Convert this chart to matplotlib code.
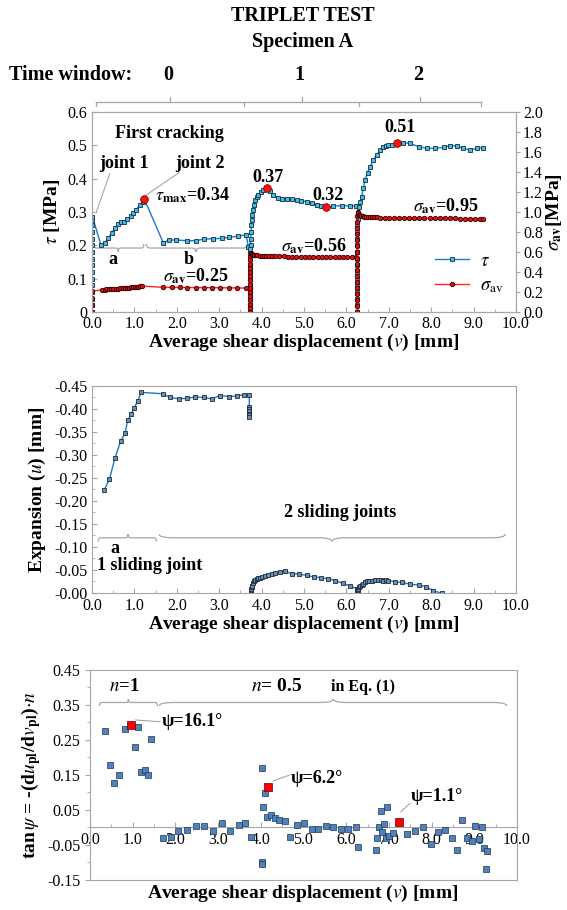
import matplotlib
matplotlib.use("Agg")
import matplotlib.pyplot as plt
from matplotlib.path import Path
from matplotlib.patches import PathPatch
from matplotlib.ticker import MultipleLocator, FuncFormatter
import matplotlib.transforms as mtransforms

plt.rcParams['font.family'] = ['Liberation Serif', 'DejaVu Serif']
plt.rcParams['mathtext.fontset'] = 'stix'
plt.rcParams['font.size'] = 11.5

# ---- top panel: shear stress tau (left) and normal stress sigma_av (right)
tau0_x = [0.0, 0.0, 0.0, 0.0, 0.0, 0.0, 0.0, 0.0, 0.0, 0.0, 0.0, 0.0, 0.0, 0.0, 0.0, 0.01,
          0.21, 0.31, 0.38, 0.46, 0.54, 0.62, 0.68, 0.75, 0.83, 0.91, 0.97, 1.04, 1.12, 1.20, 1.23,
          1.68, 1.82, 1.99, 2.23, 2.45, 2.64, 2.86, 3.06, 3.24, 3.45, 3.63, 3.69]
tau0_y = [0.0, 0.02, 0.04, 0.06, 0.08, 0.10, 0.12, 0.14, 0.16, 0.18, 0.20, 0.22, 0.24, 0.26, 0.275, 0.286,
          0.201, 0.208, 0.221, 0.236, 0.251, 0.264, 0.271, 0.271, 0.278, 0.288, 0.298, 0.306, 0.321, 0.331, 0.340,
          0.208, 0.216, 0.216, 0.214, 0.214, 0.219, 0.220, 0.221, 0.224, 0.228, 0.231, 0.196]

tau1_x = [3.73, 3.73, 3.73, 3.73, 3.73, 3.73, 3.73, 3.73, 3.73, 3.73, 3.73, 3.74, 3.74, 3.75, 3.76,
          3.77, 3.78, 3.79, 3.81, 3.84, 3.88, 3.92, 3.98, 4.04, 4.12, 4.20, 4.28, 4.39, 4.49, 4.59,
          4.71, 4.83, 4.94, 5.06, 5.18, 5.30, 5.41, 5.52, 5.69, 5.89, 6.08, 6.22]
tau1_y = [0.0, 0.02, 0.04, 0.06, 0.08, 0.10, 0.12, 0.14, 0.16, 0.18, 0.19, 0.20, 0.22, 0.24, 0.26,
          0.276, 0.29, 0.305, 0.32, 0.336, 0.345, 0.351, 0.359, 0.366, 0.371, 0.362, 0.351, 0.341, 0.340, 0.339,
          0.338, 0.336, 0.334, 0.331, 0.326, 0.321, 0.317, 0.314, 0.318, 0.319, 0.318, 0.318]

tau2_x = [6.26, 6.26, 6.26, 6.26, 6.26, 6.26, 6.26, 6.26, 6.26, 6.26, 6.26, 6.26, 6.26, 6.26, 6.27,
          6.28, 6.30, 6.33, 6.36, 6.40, 6.44, 6.50, 6.56, 6.63, 6.71, 6.79, 6.87, 6.93, 6.99, 7.08,
          7.19, 7.34, 7.50, 7.70, 7.89, 8.09, 8.29, 8.44, 8.60, 8.76, 8.92, 9.07, 9.21]
tau2_y = [0.0, 0.02, 0.04, 0.06, 0.08, 0.10, 0.12, 0.14, 0.16, 0.18, 0.20, 0.22, 0.24, 0.26, 0.28,
          0.29, 0.315, 0.33, 0.346, 0.372, 0.396, 0.418, 0.436, 0.455, 0.471, 0.485, 0.496, 0.499, 0.501, 0.502,
          0.508, 0.508, 0.506, 0.496, 0.491, 0.491, 0.494, 0.499, 0.498, 0.491, 0.486, 0.491, 0.493]

sig0_x = [0.0, 0.0, 0.0, 0.0, 0.23, 0.30, 0.34, 0.40, 0.45, 0.50, 0.56, 0.61, 0.66, 0.72, 0.77, 0.82,
          0.88, 0.93, 0.97, 1.02, 1.06, 1.09, 1.14, 1.19,
          1.68, 1.88, 2.07, 2.25, 2.45, 2.64, 2.84, 3.03, 3.24, 3.43, 3.63, 3.73]
sig0_y = [0.0, 0.07, 0.14, 0.21, 0.22, 0.223, 0.227, 0.228, 0.229, 0.23, 0.232, 0.234, 0.237, 0.239, 0.241, 0.243,
          0.245, 0.246, 0.247, 0.249, 0.251, 0.253, 0.256, 0.26,
          0.247, 0.246, 0.246, 0.245, 0.245, 0.244, 0.244, 0.243, 0.242, 0.241, 0.24, 0.237]

sig1_x = [3.73, 3.73, 3.73, 3.73, 3.73, 3.73, 3.73, 3.73, 3.73, 3.73, 3.73, 3.73, 3.73, 3.73, 3.73,
          3.74, 3.76, 3.78, 3.80, 3.83, 3.86, 3.90, 3.95, 4.00, 4.05, 4.10, 4.17, 4.24, 4.32,
          4.42, 4.52, 4.62, 4.72, 4.82, 4.92, 5.02, 5.12, 5.22, 5.32, 5.42, 5.52, 5.62, 5.72,
          5.82, 5.92, 6.02, 6.12, 6.22]
sig1_y = [0.0, 0.04, 0.08, 0.12, 0.16, 0.20, 0.24, 0.28, 0.32, 0.36, 0.40, 0.44, 0.48, 0.52, 0.56,
          0.59, 0.585, 0.58, 0.575, 0.572, 0.57, 0.567, 0.565, 0.563, 0.561, 0.56, 0.559, 0.558, 0.557,
          0.556, 0.556, 0.555, 0.555, 0.555, 0.555, 0.554, 0.554, 0.554, 0.554, 0.553, 0.553, 0.553, 0.553,
          0.553, 0.553, 0.553, 0.552, 0.552]

sig2_x = [6.26, 6.26, 6.26, 6.26, 6.26, 6.26, 6.26, 6.26, 6.26, 6.26, 6.26, 6.26, 6.26, 6.26, 6.26,
          6.26, 6.26, 6.27, 6.28, 6.30, 6.32, 6.35, 6.38, 6.42, 6.46, 6.50, 6.55, 6.60, 6.66,
          6.72, 6.80, 6.90, 7.00, 7.12, 7.24, 7.36, 7.48, 7.60, 7.72, 7.84, 7.96, 8.08, 8.20,
          8.32, 8.44, 8.56, 8.68, 8.80, 8.92, 9.04, 9.16, 9.22]
sig2_y = [0.0, 0.06, 0.12, 0.18, 0.24, 0.30, 0.36, 0.42, 0.48, 0.54, 0.60, 0.66, 0.72, 0.78, 0.84,
          0.90, 0.96, 1.0, 0.99, 0.975, 0.968, 0.962, 0.958, 0.955, 0.953, 0.951, 0.95, 0.949, 0.948,
          0.946, 0.945, 0.944, 0.943, 0.942, 0.941, 0.94, 0.94, 0.939, 0.939, 0.938, 0.938, 0.937, 0.937,
          0.936, 0.936, 0.936, 0.935, 0.935, 0.935, 0.934, 0.934, 0.934]

peak_x = [1.23, 4.12, 5.52, 7.19]
peak_tau = [0.340, 0.371, 0.314, 0.508]

# ---- middle panel: expansion u
exp0_x = [0.29, 0.41, 0.54, 0.68, 0.78, 0.84, 0.92, 1.00, 1.08, 1.16, 1.67, 1.84, 2.04, 2.23, 2.43,
          2.63, 2.82, 3.02, 3.22, 3.41, 3.59, 3.71, 3.71, 3.71, 3.71, 3.71, 3.71, 3.71]
exp0_u = [-0.224, -0.247, -0.293, -0.331, -0.347, -0.375, -0.388, -0.403, -0.418, -0.436, -0.433, -0.425,
          -0.422, -0.423, -0.426, -0.425, -0.422, -0.429, -0.427, -0.428, -0.431, -0.430, -0.405, -0.400,
          -0.395, -0.390, -0.386, -0.383]

exp1_x = [3.75, 3.75, 3.76, 3.76, 3.77, 3.78, 3.80, 3.82, 3.84, 3.88, 3.92, 3.96, 4.02, 4.08, 4.16,
          4.24, 4.32, 4.43, 4.54, 4.72, 4.89, 5.06, 5.23, 5.40, 5.57, 5.74, 5.91, 6.09, 6.25]
exp1_u = [0.0, -0.003, -0.006, -0.009, -0.012, -0.016, -0.021, -0.025, -0.028, -0.030, -0.032, -0.033,
          -0.034, -0.036, -0.039, -0.042, -0.044, -0.046, -0.047, -0.042, -0.041, -0.038, -0.035, -0.033,
          -0.031, -0.027, -0.021, -0.015, -0.009]

exp2_x = [6.26, 6.26, 6.27, 6.27, 6.28, 6.30, 6.32, 6.36, 6.40, 6.44, 6.48, 6.54, 6.60, 6.67, 6.75,
          6.81, 6.87, 6.93, 6.99, 7.15, 7.30, 7.50, 7.70, 7.88, 8.05, 8.25]
exp2_u = [0.0, -0.002, -0.004, -0.006, -0.008, -0.012, -0.015, -0.018, -0.020, -0.023, -0.025, -0.026,
          -0.027, -0.028, -0.028, -0.029, -0.027, -0.028, -0.027, -0.024, -0.023, -0.019, -0.017, -0.014,
          -0.004, 0.0]

# ---- bottom panel: dilatancy tan(psi)
psi_x = [0.35, 0.47, 0.57, 0.69, 0.82, 1.06, 1.12, 1.19, 1.29, 1.37, 1.42,
         1.72, 1.89, 2.07, 2.27, 2.48, 2.67, 2.88, 3.08, 3.29, 3.48, 3.64, 3.78,
         4.02, 4.04, 4.04, 4.06, 4.10, 4.14, 4.24, 4.33, 4.43, 4.56, 4.68, 4.85, 5.01,
         5.19, 5.35, 5.53, 5.70, 5.88, 6.05, 6.23, 6.28,
         6.70, 6.73, 6.76, 6.81, 6.84, 6.89, 6.93, 6.96, 7.01, 7.10, 7.42, 7.60, 7.79,
         7.98, 8.14, 8.32, 8.47, 8.60, 8.71, 8.82, 8.94, 9.01, 9.10, 9.17, 9.23, 9.29, 9.27]
psi_y = [0.277, 0.179, 0.126, 0.150, 0.281, 0.229, 0.288, 0.159, 0.164, 0.150, 0.253,
         -0.031, -0.028, -0.010, -0.008, 0.004, 0.004, -0.009, 0.014, -0.011, 0.008, 0.013, -0.028,
         0.169, -0.099, -0.104, 0.059, 0.098, 0.029, 0.037, 0.026, 0.021, 0.018, -0.026, 0.006, 0.013,
         -0.004, -0.004, 0.004, 0.000, -0.005, -0.005, 0.000, -0.055,
         -0.064, -0.031, 0.000, 0.047, -0.012, 0.010, -0.031, 0.059, -0.024, -0.015, -0.019, -0.010, 0.000,
         -0.048, -0.014, -0.008, -0.031, -0.063, 0.021, -0.029, -0.040, 0.004, -0.033, 0.000, -0.059, -0.066, -0.119]
psi_red_x = [0.95, 4.18, 7.23]
psi_red_y = [0.292, 0.116, 0.016]

GRAY = '#A6A6A6'
BLUE = '#1F77C8'
LBLUE = '#39C0F0'
XLAB = r'Average shear displacement ($v$) [mm]'


def brace(ax, x0, x1, xm, y, h, d, lw=0.9):
    """curly brace from x0 to x1 at height y; tip at xm pointing d (+1 up, -1 down)"""
    w = (x1 - x0) * 0.04
    verts = [(x0, y - d * h), (x0, y), (x0 + w, y),
             (xm - w, y), (xm, y), (xm, y + d * h),
             (xm, y), (xm + w, y),
             (x1 - w, y), (x1, y), (x1, y - d * h)]
    codes = [Path.MOVETO, Path.CURVE3, Path.CURVE3,
             Path.LINETO, Path.CURVE3, Path.CURVE3,
             Path.CURVE3, Path.CURVE3,
             Path.LINETO, Path.CURVE3, Path.CURVE3]
    ax.add_patch(PathPatch(Path(verts, codes), fc='none', ec=GRAY, lw=lw, clip_on=False))


def style_spines(ax):
    for s in ax.spines.values():
        s.set_color(GRAY)


fig = plt.figure(figsize=(5.67, 9.10), dpi=100)
ax1 = fig.add_axes([0.1623, 0.6571, 0.7478, 0.2198])
ax2 = fig.add_axes([0.1623, 0.3484, 0.7478, 0.2275])
ax3 = fig.add_axes([0.1587, 0.0330, 0.7531, 0.2308])

# ---------------- top panel
ax1r = ax1.twinx()
mk_t = dict(color=BLUE, lw=1.0, marker='s', ms=3.2, mfc=LBLUE, mec='#1a2a3a', mew=0.6)
mk_s = dict(color='#FF2020', lw=1.0, marker='o', ms=3.2, mfc='#E01010', mec='#300000', mew=0.6)
ax1.plot(tau0_x, tau0_y, **mk_t)
ax1.plot(tau1_x, tau1_y, **mk_t)
lt, = ax1.plot(tau2_x, tau2_y, **mk_t)
ax1.plot(peak_x, peak_tau, 'o', ms=5.5, mfc='#FF1010', mec='#800000', mew=0.6, zorder=5)
ax1r.plot(sig0_x, sig0_y, **mk_s)
ax1r.plot(sig1_x, sig1_y, **mk_s)
ls, = ax1r.plot(sig2_x, sig2_y, **mk_s)

ax1.set_xlim(0, 10)
ax1.set_ylim(0, 0.6)
ax1r.set_ylim(0, 2.0)
ax1.xaxis.set_major_locator(MultipleLocator(1))
ax1.xaxis.set_minor_locator(MultipleLocator(0.5))
ax1.xaxis.set_major_formatter(FuncFormatter(lambda v, p: '%.1f' % v))
ax1.yaxis.set_major_locator(MultipleLocator(0.1))
ax1.yaxis.set_major_formatter(FuncFormatter(lambda v, p: '0' if abs(v) < 1e-9 else '%.1f' % v))
ax1r.yaxis.set_major_locator(MultipleLocator(0.2))
ax1r.yaxis.set_major_formatter(FuncFormatter(lambda v, p: '%.1f' % v))
ax1.tick_params(axis='x', which='both', direction='in', color=GRAY, pad=3)
ax1.tick_params(axis='y', direction='in', color=GRAY)
ax1r.tick_params(axis='y', direction='out', color=GRAY, length=3, pad=2)
style_spines(ax1)
style_spines(ax1r)
ax1.set_xlabel(XLAB, fontsize=14, fontweight='bold', labelpad=0)
ax1.set_ylabel(r'$\tau$ [MPa]', fontsize=14, fontweight='bold', labelpad=4)
ax1r.set_ylabel(r'$\sigma_{\mathbf{av}}$[MPa]', fontsize=14, fontweight='bold', labelpad=1)

bk = dict(fontsize=13, fontweight='bold')
ax1.text(1.82, 0.537, 'First cracking', ha='center', va='center', **bk)
ax1.text(0.75, 0.447, 'joint 1', ha='center', va='center', **bk)
ax1.text(2.54, 0.447, 'joint 2', ha='center', va='center', **bk)
ax1.plot([0.42, 0.10], [0.415, 0.30], color=GRAY, lw=0.8)
ax1.plot([2.05, 1.27], [0.418, 0.350], color=GRAY, lw=0.8)
ax1.text(2.36, 0.351, r'$\tau_{\mathbf{max}}$=0.34', ha='center', va='center', **bk)
ax1.text(0.50, 0.158, 'a', ha='center', va='center', **bk)
ax1.text(2.27, 0.158, 'b', ha='center', va='center', **bk)
brace(ax1, 0.05, 1.22, 0.62, 0.192, 0.012, -1)
brace(ax1, 1.28, 3.66, 2.45, 0.192, 0.012, -1)
ax1.text(2.45, 0.106, r'$\sigma_{\mathbf{av}}$=0.25', ha='center', va='center', **bk)
ax1.text(4.14, 0.405, '0.37', ha='center', va='center', **bk)
ax1.text(5.57, 0.351, '0.32', ha='center', va='center', **bk)
ax1.text(7.26, 0.553, '0.51', ha='center', va='center', **bk)
ax1.text(5.24, 0.196, r'$\sigma_{\mathbf{av}}$=0.56', ha='center', va='center', **bk)
ax1.text(8.35, 0.316, r'$\sigma_{\mathbf{av}}$=0.95', ha='center', va='center', **bk)
ax1r.legend([lt, ls], [r'$\tau$', r'$\sigma_{\rm av}$'], loc='lower left',
            bbox_to_anchor=(0.77, 0.0), frameon=False, fontsize=13.5,
            handlelength=1.8, handletextpad=0.6, labelspacing=0.4)

# time window brackets above the top panel
tr = mtransforms.blended_transform_factory(ax1.transData, ax1.transAxes)
win_edges = [0.1, 3.58, 6.30, 9.17]
win_mid = [1.84, 4.95, 7.74]
win_lab = ['0', '1', '2']
ax1.plot([win_edges[0], win_edges[-1]], [1.05, 1.05], color=GRAY, lw=0.9, transform=tr, clip_on=False)
for xe in win_edges:
    ax1.plot([xe, xe], [1.05, 1.03], color=GRAY, lw=0.9, transform=tr, clip_on=False)
for xm, lab in zip(win_mid, win_lab):
    ax1.plot([xm, xm], [1.05, 1.075], color=GRAY, lw=0.9, transform=tr, clip_on=False)
    ax1.text(xm - 0.05, 1.185, lab, transform=tr, ha='center', va='center', fontsize=14.5, fontweight='bold')
fig.text(9 / 567, 1 - 75 / 910, 'Time window:', ha='left', va='center', fontsize=14.5, fontweight='bold')
fig.text(303 / 567, 1 - 16 / 910, 'TRIPLET TEST', ha='center', va='center', fontsize=14.5, fontweight='bold')
fig.text(303 / 567, 1 - 42 / 910, 'Specimen A', ha='center', va='center', fontsize=14.5, fontweight='bold')

# ---------------- middle panel
mk_e = dict(color=BLUE, lw=1.0, marker='s', ms=2.8, mfc='#6f8fb0', mec='#1a2a3a', mew=0.6)
ax2.plot(exp0_x, exp0_u, **mk_e)
ax2.plot(exp1_x, exp1_u, **mk_e)
ax2.plot(exp2_x, exp2_u, **mk_e)
ax2.set_xlim(0, 10)
ax2.set_ylim(0, -0.45)
ax2.xaxis.set_major_locator(MultipleLocator(1))
ax2.xaxis.set_minor_locator(MultipleLocator(0.5))
ax2.xaxis.set_major_formatter(FuncFormatter(lambda v, p: '%.1f' % v))
ax2.yaxis.set_major_locator(MultipleLocator(0.05))
ax2.yaxis.set_minor_locator(MultipleLocator(0.025))
ax2.yaxis.set_major_formatter(FuncFormatter(lambda v, p: '-%.2f' % abs(v)))
ax2.tick_params(which='both', direction='in', color=GRAY)
style_spines(ax2)
ax2.set_xlabel(XLAB, fontsize=14, fontweight='bold', labelpad=0)
ax2.set_ylabel(r'Expansion ($u$) [mm]', fontsize=14, fontweight='bold', labelpad=4)
ax2.text(5.85, -0.174, '2 sliding joints', ha='center', va='center', **bk)
brace(ax2, 0.15, 1.52, 0.85, -0.120, 0.008, -1)
brace(ax2, 1.58, 9.75, 5.66, -0.120, 0.008, 1)
ax2.text(0.54, -0.097, 'a', ha='center', va='center', **bk)
ax2.text(1.36, -0.060, '1 sliding joint', ha='center', va='center', **bk)

# ---------------- bottom panel
ax3.scatter(psi_x, psi_y, marker='s', s=22, c='#4F81BD', edgecolors='#1f3550', linewidths=0.5, zorder=3)
ax3.scatter(psi_red_x, psi_red_y, marker='s', s=30, c='#FF0000', edgecolors='#600000', linewidths=0.5, zorder=4)
ax3.set_xlim(0, 10)
ax3.set_ylim(-0.15, 0.45)
ax3.spines['bottom'].set_position(('data', 0))
ax3.plot([0, 1], [0, 0], color=GRAY, lw=0.8, transform=ax3.transAxes, clip_on=False)
style_spines(ax3)
ax3.xaxis.set_major_locator(MultipleLocator(1))
ax3.xaxis.set_minor_locator(MultipleLocator(0.5))
ax3.xaxis.set_major_formatter(FuncFormatter(lambda v, p: '%.1f' % v))
ax3.yaxis.set_major_locator(MultipleLocator(0.1, offset=0.05))
ax3.yaxis.set_minor_locator(MultipleLocator(0.05))
ax3.yaxis.set_major_formatter(FuncFormatter(lambda v, p: '%.2f' % v))
ax3.tick_params(axis='x', which='both', direction='in', color=GRAY, pad=3)
ax3.tick_params(axis='y', which='both', direction='out', color=GRAY)
ax3.set_ylabel(r'tan$\,\psi$ = -(d$u_{\mathbf{pl}}$/d$v_{\mathbf{pl}}$)$\cdot n$', fontsize=14,
               fontweight='bold', labelpad=3)
fig.text(0.534, 1 - 893 / 910, XLAB, ha='center', va='center', fontsize=14, fontweight='bold')
ax3.text(0.80, 0.402, r'$n$=1', ha='center', va='center', fontsize=13.5, fontweight='bold')
ax3.text(4.37, 0.402, r'$n$= 0.5', ha='center', va='center', fontsize=14, fontweight='bold')
ax3.text(5.65, 0.400, 'in Eq. (1)', ha='left', va='center', fontsize=11.5, fontweight='bold')
brace(ax3, 0.22, 1.58, 0.90, 0.357, 0.010, 1)
brace(ax3, 1.62, 9.76, 5.70, 0.357, 0.010, 1)
ax3.text(1.68, 0.302, 'ψ=16.1°', ha='left', va='center', fontsize=13, fontweight='bold')
ax3.plot([1.07, 1.64], [0.307, 0.302], color=GRAY, lw=0.8)
ax3.text(4.70, 0.141, 'ψ=6.2°', ha='left', va='center', fontsize=13, fontweight='bold')
ax3.plot([4.29, 4.68], [0.133, 0.150], color=GRAY, lw=0.8)
ax3.text(7.52, 0.088, 'ψ=1.1°', ha='left', va='center', fontsize=13, fontweight='bold')
ax3.plot([7.28, 7.50], [0.045, 0.069], color=GRAY, lw=0.8)

fig.savefig('out.png', dpi=100)
